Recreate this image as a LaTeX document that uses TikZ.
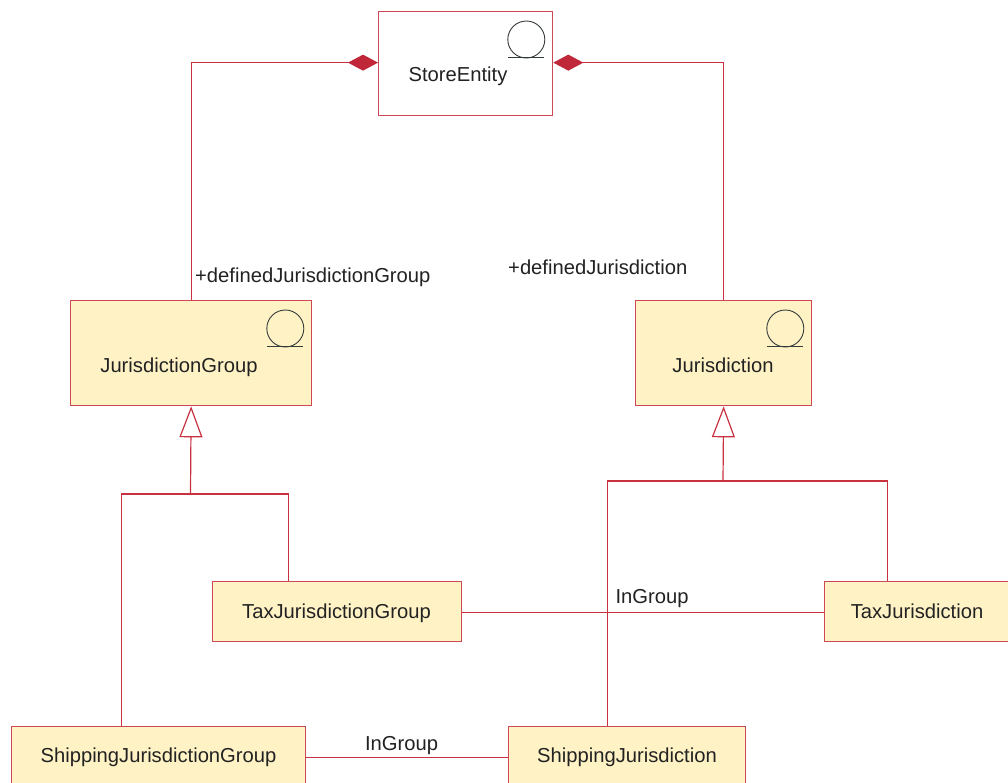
\documentclass[tikz,border=0pt]{standalone}
\usepackage{fontspec}
\setmainfont{Liberation Sans}
\usetikzlibrary{arrows.meta}
\definecolor{lred}{HTML}{C8323F}
\definecolor{bred}{HTML}{CC4856}
\definecolor{dred}{HTML}{C0283A}
\definecolor{byel}{HTML}{FFF3C6}
\definecolor{tgray}{HTML}{222222}
\definecolor{igray}{HTML}{333A3A}
\tikzset{
  box/.style={draw=bred, line width=1.3pt, fill=byel, anchor=north west, inner sep=0pt},
  wbox/.style={box, fill=white},
  txt/.style={text=tgray, font=\fontsize{20.2}{24}\selectfont, anchor=base, inner sep=0pt},
  conn/.style={draw=lred, line width=1.2pt},
  icon/.style={draw=igray, line width=0.9pt},
  comp/.style={conn, {Diamond[length=30pt,width=16pt,fill=dred,color=dred]}-},
  gen/.style={conn, {Triangle[open,length=31pt,width=23pt,fill=white]}-}
}
\newcommand\eicon[1]{%
  \draw[icon] ([xshift=-27pt,yshift=-28.5pt]#1.north east) circle (18.5pt);
  \draw[icon] ([xshift=-45pt,yshift=-46.8pt]#1.north east) -- ++(36,0);
}
\begin{document}
\begin{tikzpicture}[x=1pt,y=-1pt]
\useasboundingbox (0,0) rectangle (1008,783);
\fill[white] (0,0) rectangle (1008,783);
\begin{scope}
\clip (0,0) rectangle (1008,783);
% boxes
\node[wbox, minimum width=174pt, minimum height=104pt] (se) at (378,11) {};
\node[box, minimum width=241pt, minimum height=105pt] (jg) at (70,300) {};
\node[box, minimum width=176pt, minimum height=105pt] (j) at (635,300) {};
\node[box, minimum width=249pt, minimum height=60pt] (tjg) at (212,581) {};
\node[box, minimum width=188pt, minimum height=60pt] (tj) at (824,581) {};
\node[box, minimum width=294pt, minimum height=60pt] (sjg) at (11,726) {};
\node[box, minimum width=237pt, minimum height=60pt] (sj) at (508,726) {};
% icons
\eicon{se}
\eicon{jg}
\eicon{j}
% texts
\node[txt] (tse) at (458,82) {StoreEntity};
\node[txt] (tjgt) at (179,372) {JurisdictionGroup};
\node[txt] (tjt) at (723,372) {Jurisdiction};
\node[txt] (ttjg) at (336.5,618) {TaxJurisdictionGroup};
\node[txt] (ttj) at (917,618) {TaxJurisdiction};
\node[txt] (tsjg) at (158.5,762) {ShippingJurisdictionGroup};
\node[txt] (tsj) at (627,762) {ShippingJurisdiction};
% composition
\draw[comp] ([yshift=1pt]se.west) -| (jg.north);
\draw[comp] ([yshift=1pt]se.east) -| (j.north);
\node[txt, anchor=base west] (rl) at (195,283) {+definedJurisdictionGroup};
\node[txt, anchor=base west] (rr) at (508,275) {+definedJurisdiction};
% generalization left
\coordinate (lb) at (190.5,494);
\draw[gen] (jg.south) -- (lb);
\draw[conn] ([xshift=-37.5pt]sjg.north) |- (lb) -| ([xshift=-48.5pt]tjg.north);
% generalization right
\coordinate (rb) at (723,481);
\draw[gen] (j.south) -- (rb);
\draw[conn] ([xshift=-19.5pt]sj.north) |- (rb) -| ([xshift=-31pt]tj.north);
% associations
\draw[conn] ([yshift=-1pt]tjg.east) -- ([yshift=-1pt]tj.west);
\node[txt] (ig1) at (652,603) {InGroup};
\draw[conn] ([yshift=-1pt]sjg.east) -- ([yshift=-1pt]sj.west);
\node[txt] (ig2) at (401.5,750) {InGroup};
\end{scope}
\end{tikzpicture}
\end{document}
